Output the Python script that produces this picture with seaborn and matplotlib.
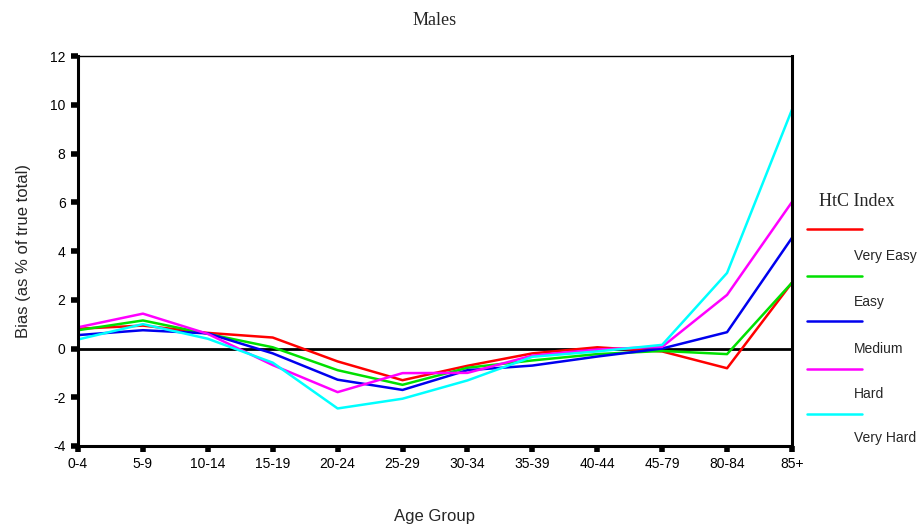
import numpy as np
import pandas as pd
import matplotlib
matplotlib.use("Agg")
import matplotlib.pyplot as plt
import seaborn as sns
from matplotlib.lines import Line2D

age_groups = ["0-4", "5-9", "10-14", "15-19", "20-24", "25-29", "30-34",
              "35-39", "40-44", "45-79", "80-84", "85+"]
levels = ["Very Easy", "Easy", "Medium", "Hard", "Very Hard"]
colors = ["#ff0000", "#00e000", "#0000ee", "#ff00ff", "#00ffff"]

very_easy = [0.81, 0.94, 0.64, 0.45, -0.53, -1.30, -0.71, -0.20, 0.05, -0.12, -0.81, 2.70]
easy = [0.75, 1.15, 0.60, 0.05, -0.89, -1.49, -0.79, -0.49, -0.23, -0.10, -0.23, 2.70]
medium = [0.55, 0.75, 0.62, -0.20, -1.28, -1.70, -0.89, -0.70, -0.33, 0.00, 0.67, 4.54]
hard = [0.87, 1.43, 0.60, -0.68, -1.79, -1.01, -1.00, -0.29, -0.04, 0.07, 2.20, 6.01]
very_hard = [0.37, 1.00, 0.40, -0.58, -2.46, -2.06, -1.31, -0.34, -0.12, 0.15, 3.10, 9.80]

series = [very_easy, easy, medium, hard, very_hard]

rows = []
for lvl, vals in zip(levels, series):
    for i, (ag, v) in enumerate(zip(age_groups, vals)):
        rows.append({"pos": i, "age": ag, "level": lvl, "bias": v})
df = pd.DataFrame(rows)

sns.set_style("white")
plt.rcParams["font.family"] = ["Liberation Sans", "DejaVu Sans"]
plt.rcParams["axes.unicode_minus"] = False

fig = plt.figure(figsize=(9.21, 5.30), dpi=100)
ax = fig.add_axes([0.0847, 0.1585, 0.8599 - 0.0847, 0.8943 - 0.1585])

sns.lineplot(data=df, x="pos", y="bias", hue="level", hue_order=levels,
             palette=colors, linewidth=1.8, legend=False, ax=ax)
ax.axhline(0, color="black", linewidth=2, zorder=1)

ax.set_xlim(0, len(age_groups) - 1)
ax.set_ylim(-4, 12)
ax.set_xticks(range(len(age_groups)))
ax.set_xticklabels(age_groups)
ax.set_yticks(range(-4, 13, 2))
ax.tick_params(axis="both", labelsize=10, colors="black", direction="out",
               length=5, width=4, pad=4)
ax.tick_params(axis="y", left=True)
ax.tick_params(axis="x", bottom=True, length=4)

for side in ["left", "bottom", "right"]:
    ax.spines[side].set_linewidth(2.2)
    ax.spines[side].set_color("black")
ax.spines["top"].set_linewidth(1)
ax.spines["top"].set_color("black")

ax.set_xlabel("Age Group", fontsize=12)
ax.xaxis.set_label_coords(0.5, (446 - 517) / 390)
ax.xaxis.label.set_va("center")
ax.set_ylabel("Bias (as % of true total)", fontsize=12, labelpad=14)
ax.set_title("Males", fontsize=13, family="Liberation Serif", pad=22)

# legend drawn by hand, label below each line
fig.text(857 / 921, 1 - 202 / 530, "HtC Index", family="Liberation Serif",
         fontsize=13, ha="center", va="center")
line_y = [229, 276, 321, 369, 414]
label_y = [256, 302, 349, 394, 438]
for c, lvl, ly, ty in zip(colors, levels, line_y, label_y):
    fig.add_artist(Line2D([807 / 921, 862 / 921], [1 - ly / 530, 1 - ly / 530],
                          color=c, linewidth=1.8))
    fig.text(854 / 921, 1 - ty / 530, lvl, fontsize=10, ha="left", va="center")

fig.savefig("out.png", dpi=100)
